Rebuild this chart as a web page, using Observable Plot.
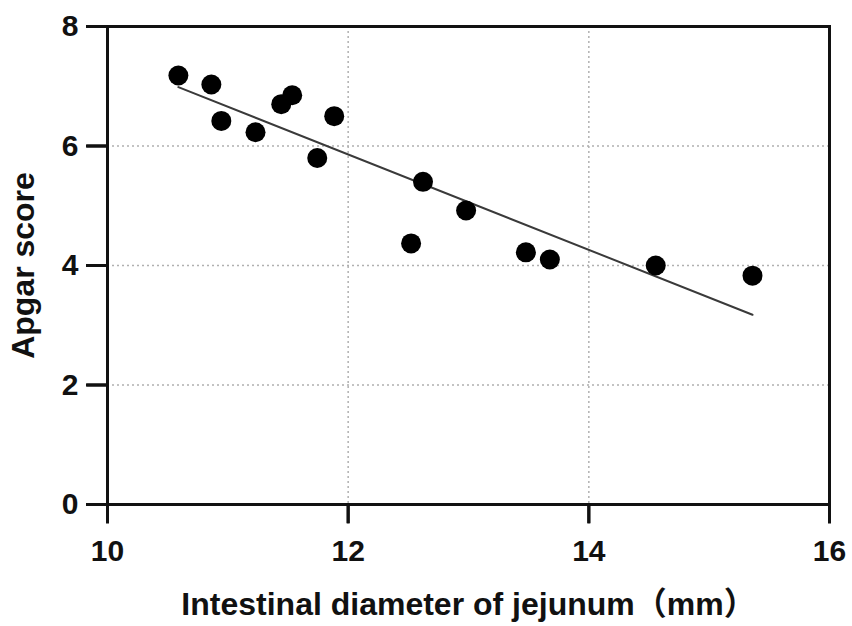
<!DOCTYPE html>
<html>
<head>
<meta charset="utf-8">
<script src="https://cdn.jsdelivr.net/npm/d3@7"></script>
<script src="https://cdn.jsdelivr.net/npm/@observablehq/plot@0.6"></script>
<style>
  html, body { margin: 0; padding: 0; background: #fff; }
  #chart svg { font-family: "Liberation Sans", Arial, "Noto Sans CJK SC", sans-serif; }
</style>
</head>
<body>
<div id="chart"></div>
<script>
const diameter = [10.589, 10.863, 10.946, 11.23, 11.444, 11.535, 11.743, 11.884, 12.523, 12.622, 12.98, 13.477, 13.676, 14.556, 15.36];
const apgar    = [7.18, 7.03, 6.42, 6.23, 6.70, 6.85, 5.80, 6.50, 4.37, 5.40, 4.92, 4.22, 4.10, 4.00, 3.83];
const xTicks = [10, 12, 14, 16];
const yTicks = [0, 2, 4, 6, 8];
const xGrid = [12, 14];
const yGrid = [2, 4, 6];
const xLabel = "Intestinal diameter of jejunum（mm）";
const yLabel = "Apgar score";

const data = diameter.map((d, i) => ({x: d, y: apgar[i]}));
const xMin = xTicks[0];
const yMin = yTicks[0];

// tick glyphs drawn as custom dot symbols (pixel length)
const downTick = {draw(ctx) { ctx.moveTo(0, 0); ctx.lineTo(0, 19); }};
const leftTick = {draw(ctx) { ctx.moveTo(0, 0); ctx.lineTo(-21, 0); }};

const chart = Plot.plot({
  width: 852,
  height: 626,
  marginLeft: 107,
  marginRight: 23,
  marginTop: 26,
  marginBottom: 122,
  style: {background: "#fff", color: "#111"},
  x: {domain: [10, 16]},
  y: {domain: [0, 8]},
  marks: [
    Plot.ruleX(xGrid, {stroke: "#b0b0b0", strokeWidth: 1.5, strokeDasharray: "2,3"}),
    Plot.ruleY(yGrid, {stroke: "#b0b0b0", strokeWidth: 1.5, strokeDasharray: "2,3"}),
    Plot.axisX({ticks: xTicks, tickSize: 0, tickPadding: 35, fontSize: 30, fontWeight: "bold",
      label: null, tickFormat: d => String(d)}),
    Plot.axisX({ticks: [], label: xLabel, labelAnchor: "center", labelArrow: "none", labelOffset: 110, fontSize: 32, fontWeight: "bold"}),
    Plot.axisY({ticks: yTicks, tickSize: 0, tickPadding: 29, fontSize: 30, fontWeight: "bold",
      label: null, tickFormat: d => String(d)}),
    Plot.axisY({ticks: [], label: yLabel, labelAnchor: "center", labelArrow: "none", labelOffset: 96, fontSize: 32, fontWeight: "bold"}),
    Plot.frame({stroke: "#111", strokeWidth: 3}),
    // outward tick marks
    Plot.ruleX(xTicks, {y1: yMin, y2: yMin, insetBottom: -19, stroke: "#111", strokeWidth: 3}),
    Plot.ruleY(yTicks, {x1: xMin, x2: xMin, insetLeft: -21, stroke: "#111", strokeWidth: 3}),
    Plot.dot(xTicks, {x: d => d, y: yMin, symbol: downTick, fill: "none", stroke: "#111", strokeWidth: 3}),
    Plot.dot(yTicks, {x: xMin, y: d => d, symbol: leftTick, fill: "none", stroke: "#111", strokeWidth: 3}),
    Plot.linearRegressionY(data, {x: "x", y: "y", ci: 0, stroke: "#3a3a3a", strokeWidth: 2}),
    Plot.dot(data, {x: "x", y: "y", r: 10, fill: "#000", stroke: "none"})
  ]
});
document.getElementById("chart").appendChild(chart);
</script>
</body>
</html>
